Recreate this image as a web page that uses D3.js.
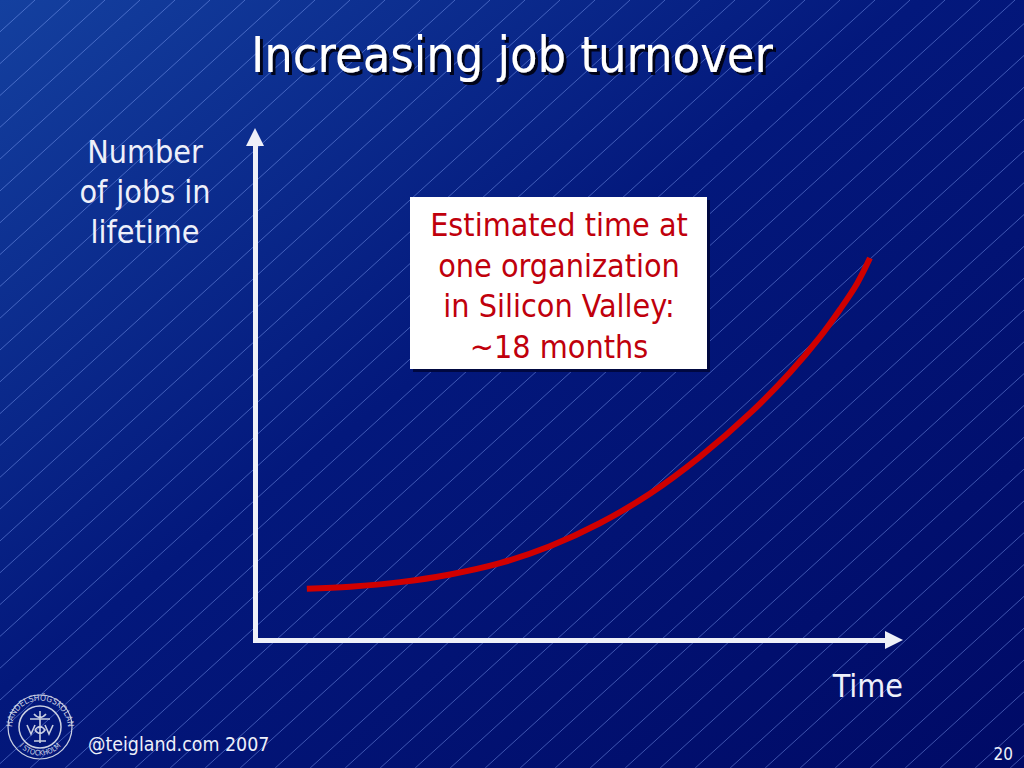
<!DOCTYPE html>
<html>
<head>
<meta charset="utf-8">
<script src="https://cdn.jsdelivr.net/npm/d3@7"></script>
<style>
html,body{margin:0;padding:0;background:#001070;}
svg{display:block;}
text{font-family:"DejaVu Sans Condensed","DejaVu Sans",Verdana,sans-serif;}
</style>
</head>
<body>
<svg id="chart" width="1024" height="768"></svg>
<script>
// ---- data ----
const title = "Increasing job turnover";
const yLabelLines = ["Number", "of jobs in", "lifetime"];
const xLabel = "Time";
const noteLines = ["Estimated time at", "one organization", "in Silicon Valley:", "~18 months"];
const footerText = "@teigland.com 2007";
const pageNumber = "20";
// curve: time (0-100) vs number of jobs (0-100)
const times = [8.0, 14.7, 22.4, 30.1, 37.8, 45.5, 53.2, 61.0, 68.7, 76.4, 82.6, 87.2, 90.3, 92.9, 94.9];
const jobs  = [10.0, 10.4, 11.3, 12.8, 15.0, 18.3, 22.8, 28.6, 35.8, 44.3, 52.3, 59.2, 64.6, 69.6, 74.6];

const W = 1024, H = 768;
const svg = d3.select("#chart");
const defs = svg.append("defs");

// background gradient
const g = defs.append("linearGradient").attr("id","bg")
  .attr("x1","0").attr("y1","0").attr("x2","1").attr("y2","1");
g.append("stop").attr("offset","0%").attr("stop-color","#14409f");
g.append("stop").attr("offset","45%").attr("stop-color","#03187c");
g.append("stop").attr("offset","100%").attr("stop-color","#000a66");
svg.append("rect").attr("width",W).attr("height",H).attr("fill","url(#bg)");

// diagonal hatch lines
const hatch = svg.append("g").attr("stroke","rgba(140,170,255,0.45)").attr("stroke-width",1);
const slope = 1.1; // dx per dy
for (let c = 0; c < W + H*slope + 40; c += 35) {
  hatch.append("line").attr("x1", c).attr("y1", 0).attr("x2", c - H*slope).attr("y2", H);
}

// shadow filter for title
const f = defs.append("filter").attr("id","sh").attr("x","-5%").attr("y","-20%").attr("width","115%").attr("height","160%");
f.append("feDropShadow").attr("dx",3).attr("dy",3).attr("stdDeviation",0.6).attr("flood-color","#000010").attr("flood-opacity",0.9);

// title
svg.append("text").attr("x",512).attr("y",72).attr("text-anchor","middle")
  .attr("font-size",50).attr("fill","#ffffff").attr("filter","url(#sh)").text(title);

// scales
const x = d3.scaleLinear().domain([0,100]).range([255, 903]);
const y = d3.scaleLinear().domain([0,100]).range([640, 128]);

const axisColor = "#eef0f8";
const head = 18, hw = 9;
// x axis (domain line only)
const xAxisG = svg.append("g").attr("transform",`translate(0,${y(0)})`)
  .call(d3.axisBottom(d3.scaleLinear().domain([0,100]).range([x(0)-2.5, x(100)-head+1])).tickValues([]).tickSizeOuter(0));
xAxisG.select(".domain").attr("stroke",axisColor).attr("stroke-width",5);
svg.append("path").attr("fill",axisColor)
  .attr("d",`M${x(100)},${y(0)} L${x(100)-head},${y(0)-hw} L${x(100)-head},${y(0)+hw} Z`);
// y axis
const yAxisG = svg.append("g").attr("transform",`translate(${x(0)},0)`)
  .call(d3.axisLeft(d3.scaleLinear().domain([0,100]).range([y(0)+2.5, y(100)+head-1])).tickValues([]).tickSizeOuter(0));
yAxisG.select(".domain").attr("stroke",axisColor).attr("stroke-width",5);
svg.append("path").attr("fill",axisColor)
  .attr("d",`M${x(0)},${y(100)} L${x(0)-hw},${y(100)+head} L${x(0)+hw},${y(100)+head} Z`);

// curve
const pts = times.map((t,i)=>[t, jobs[i]]);
svg.append("path").datum(pts)
  .attr("fill","none").attr("stroke","#d00000").attr("stroke-width",6)
  .attr("d", d3.line().x(d=>x(d[0])).y(d=>y(d[1])).curve(d3.curveCatmullRom.alpha(0.5)));

// y label
svg.append("text").attr("text-anchor","middle").attr("font-size",32).attr("fill","#eef0fa")
  .selectAll("tspan").data(yLabelLines).join("tspan")
  .attr("x",145).attr("y",(d,i)=>163+i*40).text(d=>d);

// x label
svg.append("text").attr("x",903).attr("y",697).attr("text-anchor","end").attr("font-size",32)
  .attr("fill","#eef0fa").text(xLabel);

// note box
svg.append("rect").attr("x",413).attr("y",200).attr("width",297).attr("height",172).attr("fill","#000840");
svg.append("rect").attr("x",410).attr("y",197).attr("width",297).attr("height",172).attr("fill","#ffffff");
svg.append("text").attr("text-anchor","middle").attr("font-size",32).attr("fill","#c0000c")
  .selectAll("tspan").data(noteLines).join("tspan")
  .attr("x",559).attr("y",(d,i)=>236+i*40.7).text(d=>d);

// footer
svg.append("text").attr("x",88).attr("y",751).attr("font-size",19.4).attr("fill","#eef0fa").text(footerText);
svg.append("text").attr("x",1013).attr("y",760).attr("text-anchor","end").attr("font-size",17).attr("fill","#eef0fa").text(pageNumber);

// logo (seal)
const logo = svg.append("g").attr("transform","translate(40,727)").attr("fill","none").attr("stroke","#c9cfe2");
logo.append("circle").attr("r",32).attr("stroke-width",1.2);
logo.append("circle").attr("r",21).attr("stroke-width",1.5);
defs.append("path").attr("id","arcTop").attr("d","M-27,9 A28,28 0 1,1 27,9");
defs.append("path").attr("id","arcBot").attr("d","M-25,13 A28,28 0 0,0 25,13");
logo.append("text").attr("fill","#c9cfe2").attr("stroke","none").attr("font-size",8.5).attr("font-family","DejaVu Serif, serif")
  .append("textPath").attr("href","#arcTop").attr("startOffset","50%").attr("text-anchor","middle").text("HANDELSHÖGSKOLAN");
logo.append("text").attr("fill","#c9cfe2").attr("stroke","none").attr("font-size",7.5).attr("font-family","DejaVu Serif, serif")
  .append("textPath").attr("href","#arcBot").attr("startOffset","50%").attr("text-anchor","middle").text("I STOCKHOLM");
logo.append("path").attr("stroke-width",1.6).attr("d","M0,-16 L0,16 M-10,-8 L10,-8 M-6,-13 Q0,-6 6,-13 M-5,3 Q0,-4 5,3 Q0,10 -5,3 M-13,-2 L-9,7 L-5,-2 M5,-2 L9,7 L13,-2 M-6,14 L6,14");
</script>
</body>
</html>
